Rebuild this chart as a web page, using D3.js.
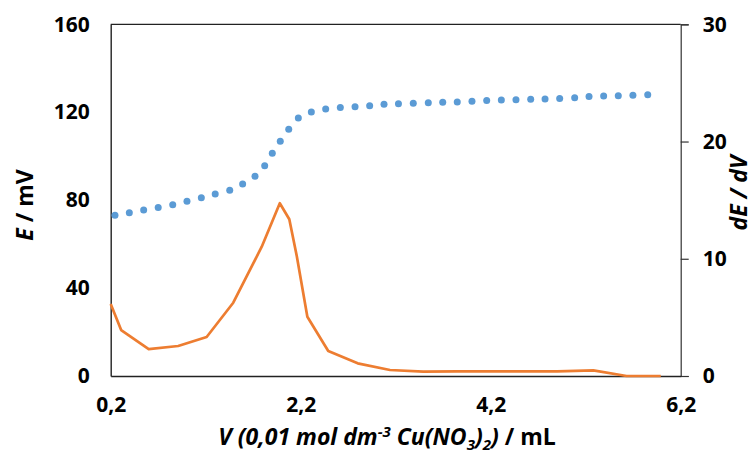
<!DOCTYPE html>
<html><head><meta charset="utf-8">
<script src="https://cdn.jsdelivr.net/npm/d3@7"></script>
<style>
html,body{margin:0;padding:0;background:#fff;}
svg text{font-family:"Open Sans",sans-serif;font-weight:bold;fill:#000;}
</style></head>
<body><svg id="c" width="754" height="453"></svg>
<script>
// Volume (mL) for potential E readings
const volE = [0.245,0.396,0.547,0.700,0.853,1.003,1.154,1.300,1.453,1.589,1.719,1.821,1.901,1.985,2.074,2.175,2.312,2.463,2.617,2.772,2.926,3.077,3.229,3.385,3.543,3.695,3.848,4.003,4.158,4.312,4.466,4.621,4.772,4.926,5.084,5.235,5.389,5.543,5.697,5.853];
// Potential E / mV
const valE = [73.1,74.3,75.5,76.7,77.9,79.5,81.1,82.8,84.5,87.4,90.9,95.6,101.3,106.8,112.2,117.4,120.1,121.5,122.1,122.5,123.0,123.6,123.9,124.1,124.3,124.5,124.7,125.0,125.3,125.6,125.7,125.9,126.0,126.2,126.6,127.1,127.4,127.5,127.7,128.0];
// Volume (mL) for derivative
const volD = [0.20,0.31,0.60,0.91,1.21,1.49,1.79,1.98,2.08,2.16,2.27,2.49,2.80,3.14,3.49,3.85,4.20,4.55,4.90,5.28,5.63,5.99];
// dE/dV
const valD = [6.14,3.92,2.30,2.56,3.33,6.25,11.03,14.74,13.37,10.18,5.06,2.13,1.08,0.51,0.37,0.40,0.40,0.40,0.40,0.48,0,0];
const xTicks = [0.2,2.2,4.2,6.2];
const yLeftTicks = [0,40,80,120,160];
const yRightTicks = [0,10,20,30];

const svg = d3.select("#c");
const L=110.7, R=680.7, T=24.3, B=376;
const x = d3.scaleLinear().domain([0.2,6.2]).range([L,R]);
const yL = d3.scaleLinear().domain([0,160]).range([B,T]);
const yR = d3.scaleLinear().domain([0,30]).range([B,T]);
const fmt = d => String(d).replace(".", ",");
const TICK_FS = 21, TITLE_FS = 23;

// top border
svg.append("line").attr("x1",L).attr("x2",R).attr("y1",T).attr("y2",T).attr("stroke","#222").attr("stroke-width",1.2);

function styleText(g){
  g.selectAll("text").attr("font-size",TICK_FS)
   .style("font-family","'Open Sans',sans-serif").style("font-weight","bold").attr("fill","#000");
}

// left axis
const gl = svg.append("g").attr("transform",`translate(${L},0)`)
  .call(d3.axisLeft(yL).tickValues(yLeftTicks).tickSize(0).tickPadding(21));
gl.select(".domain").attr("stroke","#222").attr("stroke-width",1.4);
styleText(gl);

// right axis
const gr = svg.append("g").attr("transform",`translate(${R},0)`)
  .call(d3.axisRight(yR).tickValues(yRightTicks).tickSize(8).tickPadding(14));
gr.select(".domain").attr("stroke","#333").attr("stroke-width",1.2);
gr.selectAll("line").attr("stroke","#333").attr("stroke-width",1.2);
styleText(gr);

// bottom axis
const gb = svg.append("g").attr("transform",`translate(0,${B})`)
  .call(d3.axisBottom(x).tickValues(xTicks).tickFormat(fmt).tickSize(0).tickPadding(21));
gb.select(".domain").attr("stroke","#222").attr("stroke-width",1.4);
styleText(gb);

// derivative line
const line = d3.line().x((d,i)=>x(volD[i])).y(d=>yR(d));
svg.append("path").datum(valD).attr("d",line).attr("fill","none")
  .attr("stroke","#ED7D31").attr("stroke-width",2.7).attr("stroke-linejoin","round");

// E dots
svg.append("g").selectAll("circle").data(valE).join("circle")
  .attr("cx",(d,i)=>x(volE[i])).attr("cy",d=>yL(d)).attr("r",3.5).attr("fill","#5B9BD5");

// axis titles
const lt = svg.append("text").attr("transform","translate(33,205) rotate(-90)").attr("text-anchor","middle").attr("font-size",TITLE_FS);
lt.append("tspan").attr("font-style","italic").text("E");
lt.append("tspan").text(" / mV");

const rt = svg.append("text").attr("transform","translate(747,193) rotate(-90)").attr("text-anchor","middle").attr("font-size",TITLE_FS);
rt.append("tspan").attr("font-style","italic").text("dE / dV");

const bt = svg.append("text").attr("x",387).attr("y",445).attr("text-anchor","middle").attr("font-size",TITLE_FS);
bt.append("tspan").attr("font-style","italic").text("V (0,01 mol dm");
bt.append("tspan").attr("font-style","italic").attr("font-size",15).attr("dy",-8).text("-3");
bt.append("tspan").attr("font-style","italic").attr("dy",8).text(" Cu(NO");
bt.append("tspan").attr("font-style","italic").attr("font-size",15).attr("dy",5).text("3");
bt.append("tspan").attr("font-style","italic").attr("dy",-5).text(")");
bt.append("tspan").attr("font-style","italic").attr("font-size",15).attr("dy",5).text("2");
bt.append("tspan").attr("font-style","italic").attr("dy",-5).text(")");
bt.append("tspan").text(" / mL");
</script>
</body></html>
